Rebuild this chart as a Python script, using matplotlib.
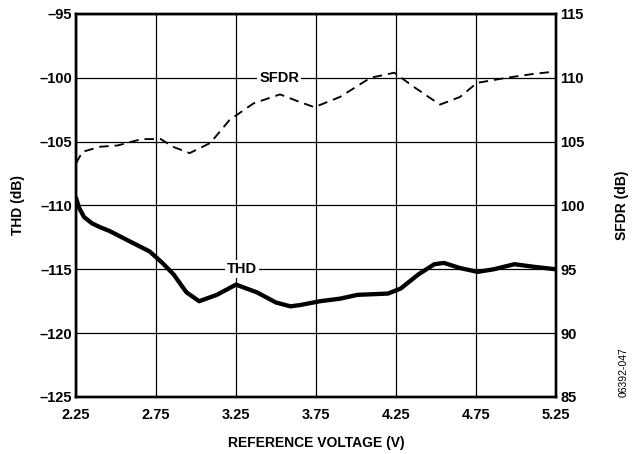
import matplotlib
matplotlib.use("Agg")
import matplotlib.pyplot as plt

plt.rcParams['font.family'] = ['Liberation Sans', 'DejaVu Sans']
plt.rcParams['font.weight'] = 'bold'

# THD (left axis) - 기준 전압별 값
thd_voltage = [2.25, 2.27, 2.30, 2.35, 2.40, 2.46, 2.60, 2.71, 2.79, 2.86, 2.94, 3.02,
               3.13, 3.25, 3.38, 3.50, 3.59, 3.65, 3.775, 3.90, 4.01, 4.20, 4.28,
               4.39, 4.49, 4.55, 4.65, 4.76, 4.86, 4.99, 5.11, 5.25]
thd_db = [-109.4, -110.2, -110.9, -111.4, -111.7, -112.0, -112.9, -113.6, -114.5,
          -115.4, -116.8, -117.5, -117.0, -116.2, -116.8, -117.6, -117.9, -117.8,
          -117.5, -117.3, -117.0, -116.9, -116.5, -115.4, -114.6, -114.5, -114.9,
          -115.2, -115.0, -114.6, -114.8, -115.0]

# SFDR (right axis)
sfdr_voltage = [2.25, 2.29, 2.40, 2.51, 2.66, 2.78, 2.856, 2.96, 3.09, 3.21, 3.36,
                3.525, 3.65, 3.74, 3.90, 4.09, 4.24, 4.36, 4.525, 4.65, 4.756,
                4.94, 5.106, 5.25]
sfdr_db = [103.3, 104.2, 104.6, 104.7, 105.2, 105.2, 104.6, 104.1, 104.9, 106.7,
           108.0, 108.7, 108.1, 107.7, 108.5, 110.0, 110.4, 109.3, 107.9, 108.5,
           109.6, 110.0, 110.3, 110.5]

x_ticks = [2.25, 2.75, 3.25, 3.75, 4.25, 4.75, 5.25]
thd_ticks = [-125, -120, -115, -110, -105, -100, -95]
sfdr_ticks = [85, 90, 95, 100, 105, 110, 115]

fig = plt.figure(figsize=(6.37, 4.54), dpi=100)
ax = fig.add_axes([0.1193, 0.1256, 0.7535, 0.8436])
ax2 = ax.twinx()

ax.plot(thd_voltage, thd_db, color='black', linewidth=3.1, solid_capstyle='round',
        solid_joinstyle='round', zorder=3)
ax2.plot(sfdr_voltage, sfdr_db, color='black', linewidth=1.35, dashes=(5, 3.2), zorder=3)

ax.set_xlim(2.25, 5.25)
ax.set_ylim(-125, -95)
ax2.set_ylim(85, 115)
ax.set_xticks(x_ticks)
ax.set_yticks(thd_ticks)
ax2.set_yticks(sfdr_ticks)
ax.set_yticklabels([str(t).replace('-', '\u2013') for t in thd_ticks])

ax.grid(True, color='black', linewidth=0.9)
ax.tick_params(axis='x', length=0, labelsize=10.5, pad=8)
ax.tick_params(axis='y', length=0, labelsize=10.5, pad=3)
ax2.tick_params(length=0, labelsize=10.5, pad=3)
for a in (ax, ax2):
    for s in a.spines.values():
        s.set_linewidth(1.7)

ax.set_xlabel('REFERENCE VOLTAGE (V)', fontsize=10, fontweight='bold')
ax.set_ylabel('THD (dB)', fontsize=10, fontweight='bold')
ax2.set_ylabel('SFDR (dB)', fontsize=10, fontweight='bold')
ax.xaxis.set_label_coords(0.5, -0.102)
ax.yaxis.set_label_coords(-0.106, 0.5)
ax2.yaxis.set_label_coords(1.123, 0.5)

bbox = dict(facecolor='white', edgecolor='none', pad=1.5)
ax2.text(3.52, 110, 'SFDR', ha='center', va='center', fontsize=10.5,
         fontweight='bold', bbox=bbox, zorder=4)
ax.text(3.29, -115, 'THD', ha='center', va='center', fontsize=10.5,
        fontweight='bold', bbox=bbox, zorder=4)

fig.text(0.979, 0.181, '06392-047', rotation=90, fontsize=7.5,
         fontweight='normal', ha='center', va='center')

fig.savefig('out.png', dpi=100)
